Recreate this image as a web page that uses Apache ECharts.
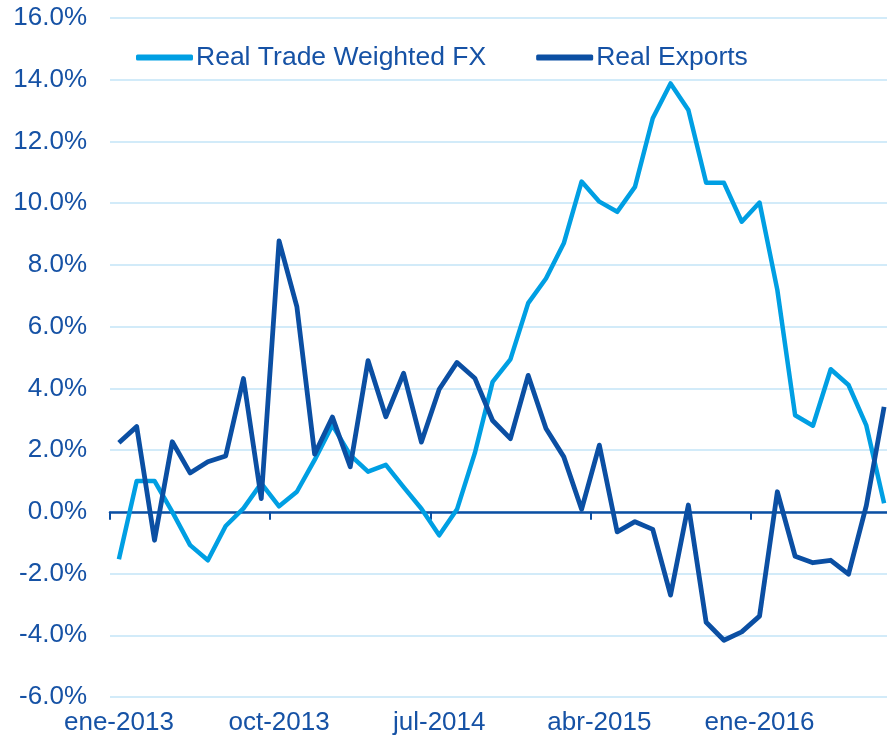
<!DOCTYPE html>
<html>
<head>
<meta charset="utf-8">
<script src="https://cdn.jsdelivr.net/npm/echarts@6/dist/echarts.min.js"></script>
<style>
html,body{margin:0;padding:0;background:#fff;overflow:hidden}
#main{width:893px;height:741px}
</style>
</head>
<body>
<div id="main"></div>
<script>
//月份 ene-2013 .. ago-2016
var meses = [
 'ene-2013','feb-2013','mar-2013','abr-2013','may-2013','jun-2013','jul-2013','ago-2013','sep-2013','oct-2013','nov-2013','dic-2013',
 'ene-2014','feb-2014','mar-2014','abr-2014','may-2014','jun-2014','jul-2014','ago-2014','sep-2014','oct-2014','nov-2014','dic-2014',
 'ene-2015','feb-2015','mar-2015','abr-2015','may-2015','jun-2015','jul-2015','ago-2015','sep-2015','oct-2015','nov-2015','dic-2015',
 'ene-2016','feb-2016','mar-2016','abr-2016','may-2016','jun-2016','jul-2016','ago-2016'
];

//Real Trade Weighted FX (%)
var fx = [
 -1.54, 1.0, 1.0, 0.0, -1.08, -1.57, -0.46, 0.11, 0.92, 0.18, 0.65, 1.68,
 2.81, 1.84, 1.30, 1.52, 0.8, 0.1, -0.76, 0.08, 1.9, 4.21, 4.94, 6.76,
 7.56, 8.70, 10.70, 10.05, 9.72, 10.53, 12.75, 13.88, 13.02, 10.66, 10.66, 9.40,
 10.02, 7.19, 3.13, 2.79, 4.62, 4.11, 2.80, 0.28
];

//Real Exports (%)
var exportaciones = [
 2.24, 2.76, -0.92, 2.27, 1.26, 1.62, 1.81, 4.32, 0.43, 8.78, 6.65, 1.87,
 3.07, 1.46, 4.9, 3.08, 4.49, 2.26, 3.97, 4.84, 4.33, 2.96, 2.37, 4.42,
 2.70, 1.78, 0.08, 2.16, -0.65, -0.32, -0.57, -2.70, 0.22, -3.58, -4.16, -3.89,
 -3.38, 0.65, -1.44, -1.65, -1.57, -2.02, 0.2, 3.40
];

var azul_claro = '#009fe3';
var azul_oscuro = '#0b4fa3';
var texto = '#1652a5';

var myChart = echarts.init(document.getElementById('main'));
var option = {
  animation: false,
  textStyle: { fontFamily: '"Liberation Sans", Arial, sans-serif' },
  legend: {
    left: 131,
    top: 39,
    itemWidth: 57,
    itemHeight: 6,
    itemGap: 50,
    icon: 'roundRect',
    textStyle: { color: texto, fontSize: 26.5, padding: [0, 0, 0, -2] },
    data: ['Real Trade Weighted FX', 'Real Exports']
  },
  //画布比窗口宽一点，最后一个月份在右边缘
  grid: { left: 110, right: 0, top: 18, bottom: 44, containLabel: false },
  xAxis: [
    {                                   //标签在底部
      type: 'category',
      data: meses,
      boundaryGap: true,
      axisLine: { show: false, onZero: false },
      axisTick: { show: false },
      axisLabel: { interval: 8, color: texto, fontSize: 26, margin: 13 },
      splitLine: { show: false }
    },
    {                                   //零线和刻度
      type: 'category',
      position: 'bottom',
      data: meses,
      boundaryGap: true,
      axisLine: { show: true, onZero: true, lineStyle: { color: azul_oscuro, width: 2.5 } },
      axisTick: { show: true, interval: 8, length: 8, lineStyle: { color: azul_oscuro, width: 2 } },
      axisLabel: { show: false },
      splitLine: { show: false }
    }
  ],
  yAxis: {
    type: 'value',
    min: -6,
    max: 16,
    interval: 2,
    axisLine: { show: false },
    axisTick: { show: false },
    axisLabel: {
      color: texto,
      fontSize: 26,
      margin: 23,
      formatter: function (v) { return v.toFixed(1) + '%'; }
    },
    splitLine: { lineStyle: { color: '#c3e5f7', width: 1.5 } }
  },
  series: [
    {
      name: 'Real Trade Weighted FX',
      type: 'line',
      data: fx,
      symbol: 'none',
      itemStyle: { color: azul_claro },
      lineStyle: { color: azul_claro, width: 4.5, join: 'round' }
    },
    {
      name: 'Real Exports',
      type: 'line',
      data: exportaciones,
      symbol: 'none',
      itemStyle: { color: azul_oscuro },
      lineStyle: { color: azul_oscuro, width: 4.8, join: 'round' }
    }
  ]
};
myChart.setOption(option);
</script>
</body>
</html>
